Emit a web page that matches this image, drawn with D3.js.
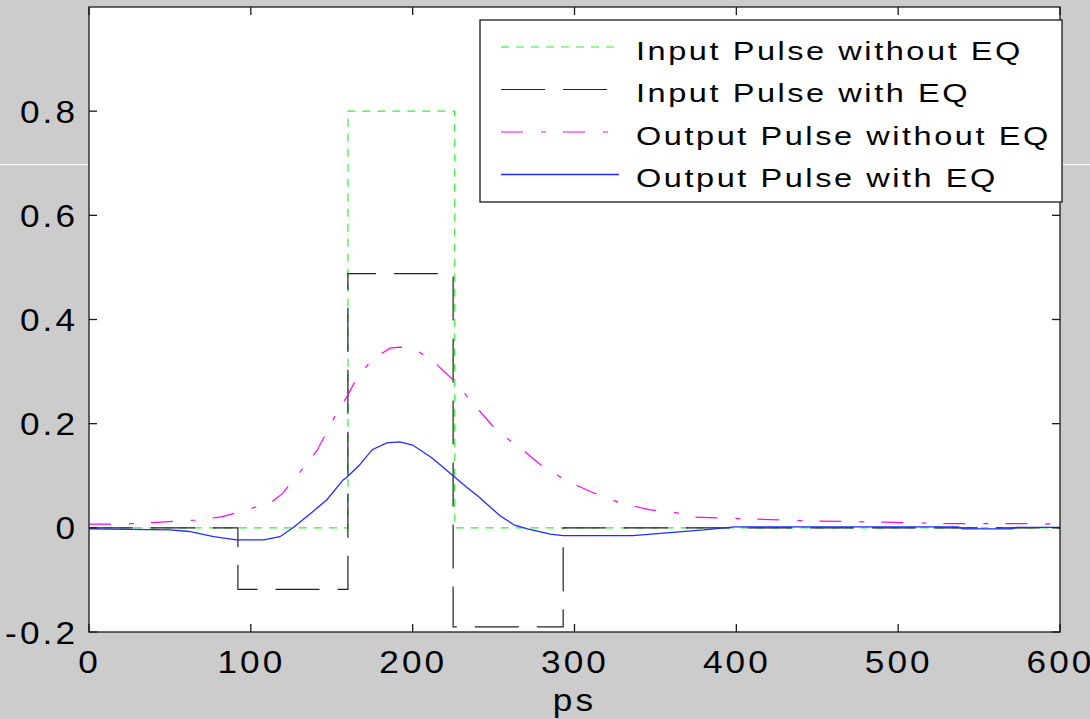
<!DOCTYPE html>
<html>
<head>
<meta charset="utf-8">
<script src="https://cdn.jsdelivr.net/npm/d3@7"></script>
<style>
  body { margin: 0; background: #cccccc; }
  svg { display: block; }
</style>
</head>
<body>
<svg id="chart" width="1090" height="719"></svg>
<script>
// axis ticks
var x_ticks = [0, 100, 200, 300, 400, 500, 600];
var y_ticks = [-0.2, 0, 0.2, 0.4, 0.6, 0.8];
var y_tick_labels = ['-0.2', '0', '0.2', '0.4', '0.6', '0.8'];
var x_label = 'ps';

// input pulse without EQ (ps, amplitude)
var in_no_eq_t = [0, 160, 160, 226, 226, 600];
var in_no_eq_v = [0, 0, 0.8, 0.8, 0, 0];

// input pulse with EQ
var in_eq_t = [0, 92, 92, 160, 160, 225, 225, 293, 293, 600];
var in_eq_v = [0, 0, -0.118, -0.118, 0.488, 0.488, -0.19, -0.19, 0, 0];

// output pulse without EQ
var out_no_eq_t = [0, 20, 44, 66, 82, 98, 113, 120, 126, 128, 141, 153, 159, 165, 173, 180, 186, 192, 200,
                   212, 225, 237, 249, 259, 268, 279, 292, 301, 312, 328, 346, 363, 372, 409, 450, 491, 532, 586, 600];
var out_no_eq_v = [0.007, 0.007, 0.011, 0.015, 0.021, 0.035, 0.050, 0.067, 0.092, 0.098, 0.149, 0.22, 0.25, 0.284, 0.316, 0.333, 0.345, 0.347, 0.345,
                   0.322, 0.284, 0.24, 0.197, 0.170, 0.150, 0.121, 0.096, 0.082, 0.067, 0.048, 0.035, 0.029, 0.021, 0.017, 0.013, 0.011, 0.008, 0.008, 0.007];

// output pulse with EQ
var out_eq_t = [0, 50, 62, 77, 91, 108, 118, 126, 136, 147, 157, 159, 167, 175, 184, 192, 200, 212, 225, 233,
                241, 254, 263, 271, 285, 293, 336, 355, 380, 399, 537, 540, 570, 573, 600];
var out_eq_v = [-0.002, -0.004, -0.007, -0.017, -0.023, -0.023, -0.017, 0, 0.025, 0.054, 0.092, 0.096, 0.12, 0.150, 0.163, 0.165, 0.159, 0.134, 0.100, 0.079,
                0.059, 0.023, 0.005, -0.002, -0.012, -0.015, -0.015, -0.010, -0.004, 0.002, 0.002, -0.002, -0.002, 0.001, 0.001];

var legend_labels = ['Input Pulse without EQ', 'Input Pulse with EQ', 'Output Pulse without EQ', 'Output Pulse with EQ'];

var font = "'Liberation Sans', Arial, sans-serif";
var margin = {top: 7, right: 30, bottom: 87, left: 89};
var width = 1090 - margin.left - margin.right;
var height = 719 - margin.top - margin.bottom;

var svg = d3.select('#chart');

// stray white rule across the slide
svg.append('line')
   .attr('x1', 0).attr('x2', 1090)
   .attr('y1', 164.5).attr('y2', 164.5)
   .attr('stroke', 'white')
   .attr('stroke-width', 1);

var x = d3.scaleLinear().domain([0, 600]).range([0, width]);
var y = d3.scaleLinear().domain([-0.2, 1.0]).range([height, 0]);

var g = svg.append('g')
           .attr('transform', 'translate(' + margin.left + ',' + margin.top + ')');

g.append('rect')
 .attr('width', width)
 .attr('height', height)
 .attr('fill', 'white');

var series = [
  {t: in_no_eq_t, v: in_no_eq_v, color: '#33f033', dash: '8,7', w: 1.2},
  {t: in_eq_t, v: in_eq_v, color: '#222222', dash: '44,18', w: 1.2},
  {t: out_no_eq_t, v: out_no_eq_v, color: '#ff00ff', dash: '22,18,5,17', w: 1.2},
  {t: out_eq_t, v: out_eq_v, color: '#1f2bff', dash: null, w: 1.3}
];

var line = d3.line()
             .x(d => x(d[0]))
             .y(d => y(d[1]));

g.append('g')
 .selectAll('path')
 .data(series)
 .enter()
 .append('path')
 .attr('fill', 'none')
 .attr('stroke', d => d.color)
 .attr('stroke-width', d => d.w)
 .attr('stroke-dasharray', d => d.dash)
 .attr('d', d => line(d.t.map((t, i) => [t, d.v[i]])));

// box with inward ticks on all four sides
var tick_len = 8;
var axis_color = '#1a1a1a';

var axes = g.append('g')
            .attr('stroke', axis_color)
            .attr('stroke-width', 1.3);

axes.append('rect')
    .attr('width', width)
    .attr('height', height)
    .attr('fill', 'none');

x_ticks.forEach(t => {
  axes.append('line').attr('x1', x(t)).attr('x2', x(t)).attr('y1', height).attr('y2', height - tick_len);
  axes.append('line').attr('x1', x(t)).attr('x2', x(t)).attr('y1', 0).attr('y2', tick_len);
});

y_ticks.forEach(t => {
  axes.append('line').attr('y1', y(t)).attr('y2', y(t)).attr('x1', 0).attr('x2', tick_len);
  axes.append('line').attr('y1', y(t)).attr('y2', y(t)).attr('x1', width).attr('x2', width - tick_len);
});

// the figure text is a little stretched sideways
var tick_font = 32;
var tick_spacing = 2.8;
var tick_stretch = 1.1;

function stretched(sel, k)
{
  return sel.attr('font-family', font)
            .attr('fill', '#000')
            .attr('transform', function () {
              var p = d3.select(this);
              return 'translate(' + p.attr('data-x') + ',' + p.attr('data-y') + ') scale(' + k + ',1)';
            });
}

stretched(
  g.append('g')
   .selectAll('text')
   .data(x_ticks)
   .enter()
   .append('text')
   .text(d => d)
   .attr('data-x', d => x(d) + tick_spacing * tick_stretch / 2 - 1)
   .attr('data-y', height + 41)
   .attr('text-anchor', 'middle')
   .attr('font-size', tick_font)
   .attr('letter-spacing', tick_spacing), tick_stretch);

stretched(
  g.append('g')
   .selectAll('text')
   .data(y_ticks)
   .enter()
   .append('text')
   .text((d, i) => y_tick_labels[i])
   .attr('data-x', -14 + tick_spacing * tick_stretch)
   .attr('data-y', d => y(d) + 11.5)
   .attr('text-anchor', 'end')
   .attr('font-size', tick_font)
   .attr('letter-spacing', tick_spacing), tick_stretch);

stretched(
  g.append('text')
   .text(x_label)
   .attr('data-x', width / 2)
   .attr('data-y', height + 79)
   .attr('text-anchor', 'middle')
   .attr('font-size', tick_font)
   .attr('letter-spacing', tick_spacing), tick_stretch);

// legend
var legend = svg.append('g')
                .attr('transform', 'translate(480,20)');

legend.append('rect')
      .attr('width', 582)
      .attr('height', 182)
      .attr('fill', 'white')
      .attr('stroke', axis_color)
      .attr('stroke-width', 1.3);

var rows = legend.selectAll('g.row')
                 .data(series)
                 .enter()
                 .append('g')
                 .attr('class', 'row')
                 .attr('transform', (d, i) => 'translate(0,' + (27 + i * 42.5) + ')');

rows.append('line')
    .attr('x1', 21)
    .attr('x2', 139)
    .attr('stroke', d => d.color)
    .attr('stroke-width', d => d.w)
    .attr('stroke-dasharray', d => d.dash);

stretched(
  rows.append('text')
      .text((d, i) => legend_labels[i])
      .attr('data-x', 156)
      .attr('data-y', 12.5)
      .attr('font-size', 26)
      .attr('letter-spacing', 2.05), 1.25);
</script>
</body>
</html>
